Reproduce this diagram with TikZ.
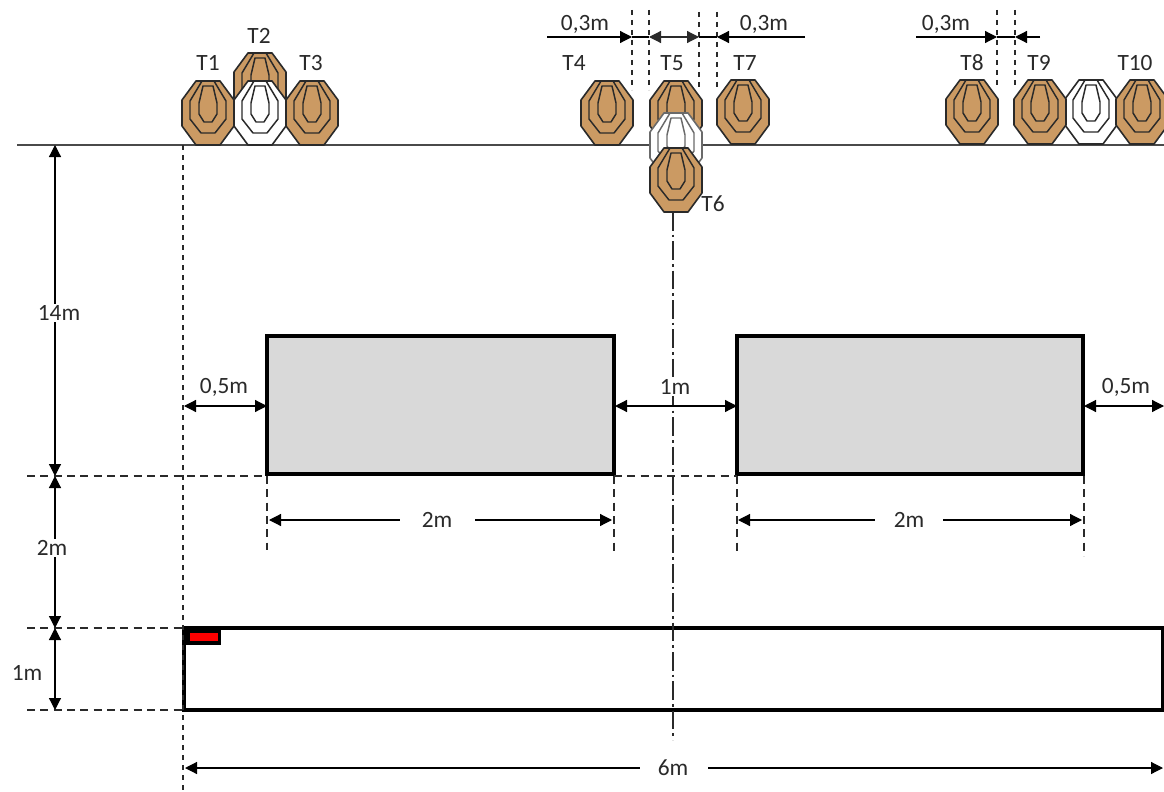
\documentclass[tikz,border=0pt]{standalone}
\usepackage{fontspec}
\setmainfont{Carlito}
\usetikzlibrary{arrows.meta}
\definecolor{tan}{HTML}{CB9A63}
\definecolor{ink}{HTML}{2A2A2A}
\definecolor{boxgrey}{HTML}{D9D9D9}
\tikzset{
  x=0.75pt,y=-0.75pt,
  label/.style={font=\fontsize{17.5}{19}\selectfont,text=ink,inner sep=1pt},
  hdash/.style={dashed,dash pattern=on 6pt off 4pt,line width=1pt,draw=ink},
  vdots/.style={dashed,dash pattern=on 4pt off 3.5pt,line width=1.1pt,draw=ink},
  axis/.style={line width=0.8pt,draw=ink,dash pattern=on 14pt off 3pt on 2pt off 3pt},
  dim/.style={line width=0.9pt,draw=black,{Triangle[length=9pt,width=9pt]}-{Triangle[length=9pt,width=9pt]}},
  dimr/.style={line width=0.9pt,draw=black,-{Triangle[length=9pt,width=9pt]}},
  diml/.style={line width=0.9pt,draw=black,{Triangle[length=9pt,width=9pt]}-},
  heavy/.style={line width=2.6pt,draw=black,line join=miter},
  ground/.style={line width=1.2pt,draw=ink!85},
  outerT/.style={line width=1.2pt,line join=round},
  ringT/.style={line width=1.1pt,line join=round,fill=none},
}
% centre x, top y, fill, line colour, node name
\newcommand{\tgt}[5]{%
  \begin{scope}[shift={(#1,#2)}]
    \coordinate (#5) at (0,32);
    \draw[outerT,fill=#3,draw=#4] (-12,0)--(12,0)--(26,19)--(26,45)--(12,64)--(-12,64)--(-26,45)--(-26,19)--cycle;
    \draw[ringT,draw=#4] (-6,0)--(-18,20)--(-18,38)--(-7,52)--(7,52)--(18,38)--(18,20)--(6,0);
    \draw[ringT,draw=#4] (-5,5)--(-9,22)--(-9,33)--(-4,41)--(4,41)--(9,33)--(9,22)--(5,5)--cycle;
  \end{scope}}
\begin{document}
\begin{tikzpicture}
\clip (0,0) rectangle (1164,792);
\fill[white] (0,0) rectangle (1164,792);

% anchors for connectors
\foreach \n/\x/\y in {
  gl/17/145,gr/1164/145,
  vLt/183/145,vLb/183/792,
  axT/673/212,axB/673/740,
  dA/55/145,dB/55/476,dC/55/628,dD/55/710,
  hBl/27/476,hBm/267/476,hBn/614/476,hBo/737/476,
  hCl/27/628,hCr/184/628,hDl/27/710,hDr/184/710,
  v1t/267/476,v1b/267/550,v2t/614/476,v2b/614/552,v3t/737/476,v3b/737/552,v4t/1084/476,v4b/1084/556,
  aL/184/406,aLb/267/406,aM/615/406,aMb/737/406,aR/1084/406,aRb/1164/406,
  wAa/269/520,wAb/400/520,wAc/475/520,wAd/612/520,
  wBa/738/520,wBb/875/520,wBc/943/520,wBd/1082/520,
  sA/185/768,sB/640/768,sC/708/768,sD/1163/768,
  p1/632/37,p1s/547/37,p2/649/37,p3/699/37,p4/717/37,p4s/805/37,
  p5/997/37,p5s/916/37,p6/1015/37,p6s/1040/37,
  q1t/632/10,q1b/632/90,q2t/649/10,q2b/649/90,q3t/699/12,q3b/699/90,q4t/717/12,q4b/717/90,
  q5t/997/10,q5b/997/88,q6t/1015/10,q6b/1015/88,
  bAa/267/336,bAb/614/474,bBa/737/336,bBb/1083/474,
  rA/184/628,rB/1163/710,fA/184/628,fB/221/645,fC/190/633,fD/218/641}
  {\coordinate (\n) at (\x,\y);}

\draw[ground] (gl)--(gr);

% boxes
\draw[heavy,fill=boxgrey] (bAa) rectangle (bAb);
\draw[heavy,fill=boxgrey] (bBa) rectangle (bBb);
\draw[heavy] (rA) rectangle (rB);
\fill[black] (fA) rectangle (fB);
\fill[red] (fC) rectangle (fD);

% guide lines
\draw[vdots] (vLt)--(vLb);
\draw[hdash] (hBl)--(hBm);
\draw[hdash] (hBn)--(hBo);
\draw[hdash] (hCl)--(hCr);
\draw[hdash] (hDl)--(hDr);
\draw[hdash] (v1t)--(v1b);
\draw[hdash] (v2t)--(v2b);
\draw[hdash] (v3t)--(v3b);
\draw[hdash] (v4t)--(v4b);
\draw[axis] (axT)--(axB);
\foreach \a/\b in {q1t/q1b,q2t/q2b,q3t/q3b,q4t/q4b,q5t/q5b,q6t/q6b}
  \draw[vdots] (\a)--(\b);

% dimensions
\draw[dim] (dA)--(dB);
\draw[dim] (dB)--(dC);
\draw[dim] (dC)--(dD);
\draw[dim] (aL)--(aLb);
\draw[dim] (aM)--(aMb);
\draw[dim] (aR)--(aRb);
\draw[diml] (wAa)--(wAb);
\draw[dimr] (wAc)--(wAd);
\draw[diml] (wBa)--(wBb);
\draw[dimr] (wBc)--(wBd);
\draw[diml] (sA)--(sB);
\draw[dimr] (sC)--(sD);
\draw[dimr] (p1s)--(p1);
\draw[line width=0.8pt] (p1)--(p2);
\draw[dim,draw=ink] (p2)--(p3);
\draw[line width=0.8pt] (p3)--(p4);
\draw[dimr] (p4s)--(p4);
\draw[dimr] (p5s)--(p5);
\draw[line width=0.8pt] (p5)--(p6);
\draw[dimr] (p6s)--(p6);

% targets
\tgt{260}{53}{tan}{ink}{tgtTwo}
\tgt{260}{81}{white}{ink}{tgtWa}
\tgt{208}{81}{tan}{ink}{tgtOne}
\tgt{312}{81}{tan}{ink}{tgtThree}
\tgt{607}{81}{tan}{ink}{tgtFour}
\tgt{676}{81}{tan}{ink}{tgtFive}
\tgt{676}{113}{white}{ink!70}{tgtWb}
\tgt{676}{148}{tan}{ink}{tgtSix}
\tgt{743}{80}{tan}{ink}{tgtSeven}
\tgt{972}{80}{tan}{ink}{tgtEight}
\tgt{1091}{80}{white}{ink}{tgtWc}
\tgt{1040}{80}{tan}{ink}{tgtNine}
\tgt{1142}{80}{tan}{ink}{tgtTen}

% labels
\node[label] (lT1) at (208,63) {T1};
\node[label] (lT2) at (259,36) {T2};
\node[label] (lT3) at (311,63) {T3};
\node[label] (lT4) at (574,63) {T4};
\node[label] (lT5) at (672,63) {T5};
\node[label] (lT6) at (713,204) {T6};
\node[label] (lT7) at (745,63) {T7};
\node[label] (lT8) at (972,63) {T8};
\node[label] (lT9) at (1039,63) {T9};
\node[label] (lT10) at (1135,63) {T10};
\node[label] (m03a) at (585,24) {0,3m};
\node[label] (m03b) at (764,24) {0,3m};
\node[label] (m03c) at (946,24) {0,3m};
\node[label,fill=white] (m14) at (59,313) {14m};
\node[label,fill=white] (m2v) at (52,548) {2m};
\node[label] (m1v) at (27,673) {1m};
\node[label] (m05a) at (224,387) {0,5m};
\node[label,fill=white] (m1h) at (675,387) {1m};
\node[label] (m05b) at (1126,387) {0,5m};
\node[label] (m2a) at (437,520) {2m};
\node[label] (m2b) at (909,520) {2m};
\node[label] (m6) at (673,768) {6m};
\end{tikzpicture}
\end{document}
